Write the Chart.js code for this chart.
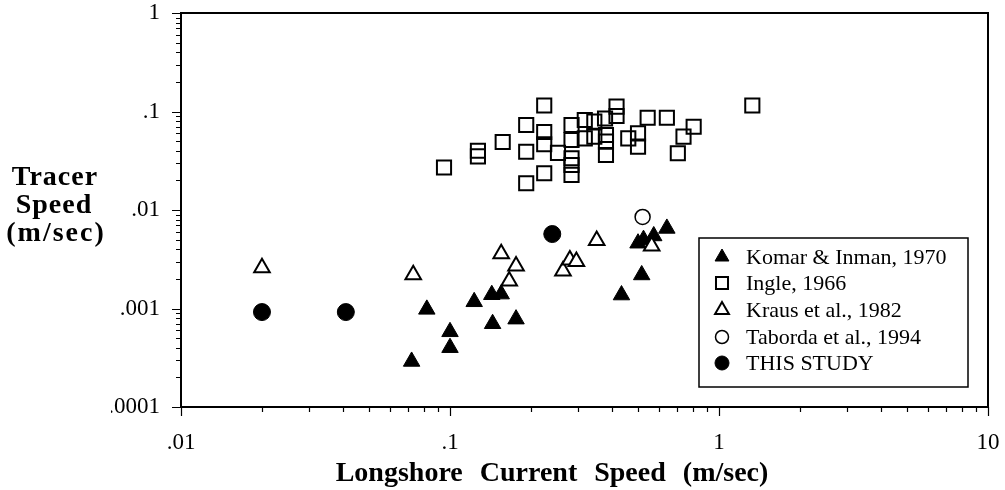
<!DOCTYPE html>
<html>
<head>
<meta charset="utf-8">
<script src="https://cdn.jsdelivr.net/npm/chart.js@4.4.0/dist/chart.umd.min.js"></script>
<style>
    body { margin: 0; background: #ffffff; }
    canvas { display: block; }
</style>
</head>
<body>
<canvas id="tracerChart" width="1005" height="490" style="width:1005px;height:490px"></canvas>
<script>
// Longshore current speed (m/sec) vs tracer speed (m/sec)
const komarSpeed  = [0.072, 0.082, 0.10, 0.10, 0.123, 0.143, 0.155, 0.144, 0.176, 0.434, 0.516, 0.50, 0.524, 0.572, 0.64];
const komarTracer = [0.00029, 0.00098, 0.00058, 0.00040, 0.00117, 0.00138, 0.0014, 0.00070, 0.00078, 0.00137, 0.00219, 0.0046, 0.0050, 0.00545, 0.0065];

const ingleSpeed  = [0.095, 0.127, 0.127, 0.157, 0.192, 0.192, 0.192, 0.224, 0.224, 0.224, 0.224, 0.252,
                     0.283, 0.283, 0.283, 0.283, 0.283, 0.317, 0.317, 0.344, 0.344, 0.377, 0.38, 0.38, 0.38,
                     0.416, 0.416, 0.46, 0.50, 0.50, 0.543, 0.64, 0.738, 0.805, 0.703, 1.33];
const ingleTracer = [0.027, 0.040, 0.035, 0.049, 0.073, 0.039, 0.0187, 0.115, 0.062, 0.0465, 0.0236, 0.038,
                     0.073, 0.0514, 0.0335, 0.0286, 0.0227, 0.082, 0.0534, 0.079, 0.0555, 0.085, 0.0578, 0.0494, 0.0362,
                     0.112, 0.09, 0.0534, 0.060, 0.044, 0.0865, 0.0865, 0.0555, 0.070, 0.0377, 0.115];

const krausSpeed  = [0.02, 0.073, 0.155, 0.176, 0.166, 0.263, 0.279, 0.295, 0.351, 0.562];
const krausTracer = [0.0026, 0.0022, 0.0036, 0.0027, 0.0019, 0.0024, 0.0031, 0.0030, 0.0049, 0.0043];

const tabordaSpeed  = [0.52];
const tabordaTracer = [0.0085];

const studySpeed  = [0.02, 0.041, 0.24];
const studyTracer = [0.00092, 0.00092, 0.0057];

const xTickValues = [0.01, 0.1, 1, 10];
const xTickLabels = ['.01', '.1', '1', '10'];
const yTickValues = [0.0001, 0.001, 0.01, 0.1, 1];
const yTickLabels = ['.0001', '.001', '.01', '.1', '1'];

const legendLabels = ['Komar & Inman, 1970', 'Ingle, 1966', 'Kraus et al., 1982', 'Taborda et al., 1994', 'THIS STUDY'];

const serif = "'Liberation Serif', 'DejaVu Serif', serif";

function toPoints(xs, ys) {
    return xs.map((x, i) => ({ x: x, y: ys[i] }));
}

// tick values 1..9 in every decade between two powers of ten
function minorTicks(min, max) {
    const out = [];
    for (let d = min; d < max * 0.999; d *= 10) {
        for (let k = 1; k <= 9; k++) out.push(d * k);
    }
    out.push(max);
    return out;
}

const markers = [
    { pointStyle: 'triangle', radius: 9.5, borderWidth: 1, fill: '#000000' },
    { pointStyle: 'rect', radius: 10, borderWidth: 2, fill: 'rgba(0,0,0,0)' },
    { pointStyle: 'triangle', radius: 9, borderWidth: 2, fill: '#ffffff' },
    { pointStyle: 'circle', radius: 7.5, borderWidth: 1.5, fill: 'rgba(0,0,0,0)' },
    { pointStyle: 'circle', radius: 8.5, borderWidth: 1, fill: '#000000' }
];

const seriesData = [
    toPoints(komarSpeed, komarTracer),
    toPoints(ingleSpeed, ingleTracer),
    toPoints(krausSpeed, krausTracer),
    toPoints(tabordaSpeed, tabordaTracer),
    toPoints(studySpeed, studyTracer)
];

// draw order: open triangles over the filled ones
const drawOrder = [2, 3, 1, 4, 0];

const datasets = seriesData.map((pts, i) => ({
    label: legendLabels[i],
    data: pts,
    pointStyle: markers[i].pointStyle,
    pointRadius: markers[i].radius,
    pointHoverRadius: markers[i].radius,
    pointBorderWidth: markers[i].borderWidth,
    pointBorderColor: '#000000',
    pointBackgroundColor: markers[i].fill,
    order: drawOrder[i]
}));

const framePlugin = {
    id: 'frame',
    beforeDatasetsDraw(chart) {
        const ctx = chart.ctx;
        const a = chart.chartArea;
        const xs = chart.scales.x;
        const ys = chart.scales.y;
        ctx.save();
        ctx.strokeStyle = '#000000';
        ctx.lineWidth = 2;
        ctx.strokeRect(a.left, a.top, a.right - a.left, a.bottom - a.top);

        // tick marks, longer at each decade
        ctx.lineWidth = 1.2;
        ctx.beginPath();
        minorTicks(0.01, 10).forEach(v => {
            const px = Math.round(xs.getPixelForValue(v)) + 0.5;
            const major = Math.abs(Math.log10(v) - Math.round(Math.log10(v))) < 1e-6;
            ctx.moveTo(px, a.bottom);
            ctx.lineTo(px, a.bottom + (major ? 9 : 5));
        });
        minorTicks(0.0001, 1).forEach(v => {
            const py = Math.round(ys.getPixelForValue(v)) + 0.5;
            const major = Math.abs(Math.log10(v) - Math.round(Math.log10(v))) < 1e-6;
            ctx.moveTo(a.left, py);
            ctx.lineTo(a.left - (major ? 9 : 5), py);
        });
        ctx.stroke();
        ctx.restore();
    },
    afterDraw(chart) {
        const ctx = chart.ctx;
        ctx.save();
        ctx.fillStyle = '#000000';

        // y axis title, written horizontally
        ctx.font = 'bold 28px ' + serif;
        ctx.textAlign = 'center';
        ctx.textBaseline = 'alphabetic';
        ctx.letterSpacing = '1px';
        ctx.fillText('Tracer', 55, 185);
        ctx.fillText('Speed', 54, 213);
        ctx.letterSpacing = '2px';
        ctx.fillText('(m/sec)', 56, 241);

        // x axis title
        ctx.letterSpacing = '0px';
        ctx.wordSpacing = '10px';
        ctx.fillText('Longshore Current Speed (m/sec)', 552, 481);
        ctx.wordSpacing = '0px';

        // legend
        const box = { left: 699, top: 238, right: 968, bottom: 387 };
        ctx.fillStyle = '#ffffff';
        ctx.fillRect(box.left, box.top, box.right - box.left, box.bottom - box.top);
        ctx.strokeStyle = '#000000';
        ctx.lineWidth = 1.5;
        ctx.strokeRect(box.left, box.top, box.right - box.left, box.bottom - box.top);

        const rows = [257, 283, 310, 337, 363];
        const legendRadius = [8, 8.5, 8, 6.5, 7];
        ctx.font = '22px ' + serif;
        ctx.textAlign = 'left';
        ctx.textBaseline = 'middle';
        legendLabels.forEach((label, i) => {
            ctx.fillStyle = markers[i].fill;
            ctx.strokeStyle = '#000000';
            ctx.lineWidth = markers[i].borderWidth;
            Chart.helpers.drawPoint(ctx, {
                pointStyle: markers[i].pointStyle,
                radius: legendRadius[i],
                rotation: 0,
                borderWidth: markers[i].borderWidth
            }, 722, rows[i]);
            ctx.fillStyle = '#000000';
            ctx.fillText(label, 746, rows[i] + 1);
        });
        ctx.restore();
    }
};

const ctx = document.getElementById('tracerChart').getContext('2d');

new Chart(ctx, {
    type: 'scatter',
    data: { datasets: datasets },
    options: {
        responsive: false,
        animation: false,
        events: [],
        layout: { padding: { left: 111, right: 17, top: 13, bottom: 0 } },
        plugins: {
            legend: { display: false },
            tooltip: { enabled: false }
        },
        scales: {
            x: {
                type: 'logarithmic',
                min: 0.01,
                max: 10,
                afterBuildTicks: scale => { scale.ticks = xTickValues.map(v => ({ value: v, major: true })); },
                afterFit: scale => {
                    scale.height = 83;
                    scale.paddingLeft = 0;
                    scale.paddingRight = 0;
                },
                grid: { display: false },
                border: { display: false },
                ticks: {
                    autoSkip: false,
                    maxRotation: 0,
                    padding: 14,
                    color: '#000000',
                    font: { family: serif, size: 23 },
                    callback: (value, index) => xTickLabels[index]
                }
            },
            y: {
                type: 'logarithmic',
                min: 0.0001,
                max: 1,
                afterBuildTicks: scale => { scale.ticks = yTickValues.map(v => ({ value: v, major: true })); },
                afterFit: scale => {
                    scale.width = 70;
                    scale.paddingTop = 0;
                    scale.paddingBottom = 0;
                },
                grid: { display: false },
                border: { display: false },
                ticks: {
                    autoSkip: false,
                    padding: 13,
                    color: '#000000',
                    font: { family: serif, size: 23 },
                    callback: (value, index) => yTickLabels[index]
                }
            }
        }
    },
    plugins: [framePlugin]
});
</script>
</body>
</html>
